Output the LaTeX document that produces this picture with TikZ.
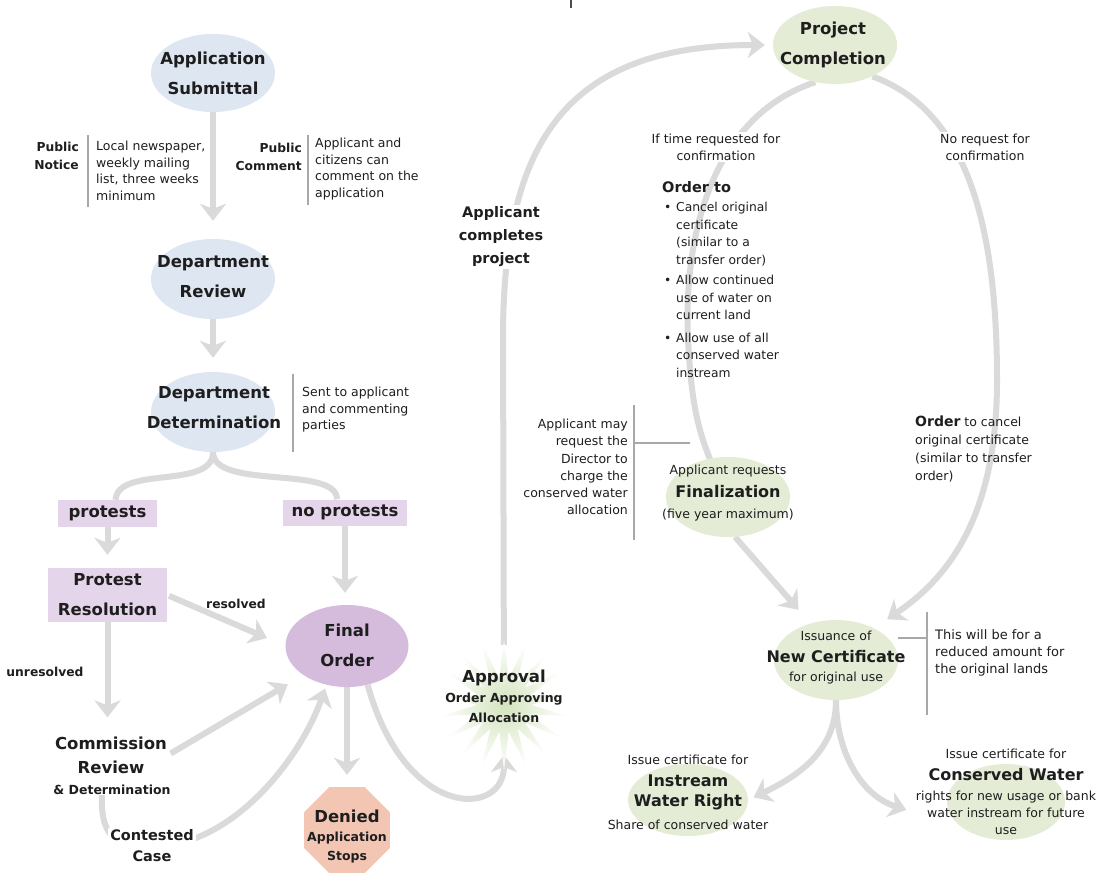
\documentclass[tikz,border=0pt]{standalone}
\usepackage{fontspec}
\setmainfont{DejaVu Sans}
\usetikzlibrary{arrows.meta,shapes.geometric}
\pgfdeclarelayer{bg}
\pgfsetlayers{bg,main}
\definecolor{agray}{HTML}{DADADA}
\definecolor{bargray}{HTML}{A8A8A8}
\definecolor{lblue}{HTML}{DEE6F2}
\definecolor{lgreen}{HTML}{E4ECD6}
\definecolor{sgreen}{HTML}{D3E4BE}
\definecolor{lpurp}{HTML}{E5D5EA}
\definecolor{fopurp}{HTML}{D5BCDD}
\definecolor{salmon}{HTML}{F3C6B4}
\definecolor{txt}{HTML}{1E1E1E}
\newcommand{\fBig}{\fontsize{16.5}{30}\selectfont\bfseries}
\tikzset{
  ell/.style={ellipse, minimum width=124pt, minimum height=78pt, inner sep=0pt, draw=none},
  big/.style={align=center, font=\fBig, inner sep=1pt, text=txt},
  lab/.style={font=\fontsize{12.3}{18}\selectfont\bfseries, inner sep=1pt, text=txt},
  note/.style={font=\fontsize{12.5}{16.5}\selectfont, inner sep=0pt, align=left, text=txt},
  sm/.style={font=\fontsize{12.5}{17}\selectfont, inner sep=0pt, align=center, text=txt},
  smb/.style={font=\fontsize{12.5}{17}\selectfont\bfseries, inner sep=0pt, align=center, text=txt},
  mid/.style={font=\fontsize{16}{20}\selectfont\bfseries, inner sep=0pt, align=center, text=txt},
  box/.style={fill=lpurp, inner sep=0pt, font=\fBig, align=center, text=txt},
  conn/.style={draw=agray, line width=6pt, -{Stealth[length=17pt,width=26pt,inset=5pt]}},
  cline/.style={draw=agray, line width=6pt},
  bar/.style={draw=bargray, line width=1.8pt},
}
\begin{document}
\begin{tikzpicture}[x=1pt,y=-1pt]
\useasboundingbox (0,0) rectangle (1107,875);
\begin{pgfonlayer}{bg}
\fill[white] (0,0) rectangle (1107,875);
\end{pgfonlayer}
\draw[line width=2pt, black!70] (571,0) -- (571,8);

% ---------- left column ----------
\node[ell, fill=lblue] (as) at (213,73) {};
\node[big] (ast) at (213,73) {Application\\Submittal};
\node[ell, fill=lblue, minimum height=80pt] (dr) at (213,279) {};
\node[big] (drt) at (213,277) {Department\\Review};
\node[ell, fill=lblue, minimum height=80pt] (dd) at (213,412) {};
\node[big] (ddt) at (214,408) {Department\\Determination};

\node[lab, anchor=east, align=right] (pn) at (80,156) {Public\\Notice};
\node[note, anchor=west] (n1) at (96,171) {Local newspaper,\\weekly mailing\\list, three weeks\\minimum};
\draw[bar] (88,135) -- (88,207);
\node[lab, anchor=east, align=right] (pcm) at (303,157) {Public\\Comment};
\node[note, anchor=west] (n2) at (315,169) {Applicant and\\citizens can\\comment on the\\application};
\draw[bar] (308,135) -- (308,205);
\node[note, anchor=west] (n3) at (302,410) {Sent to applicant\\and commenting\\parties};
\draw[bar] (293,374) -- (293,452);

\node[box, minimum width=99pt, minimum height=27pt] (prot) at (107.5,513.5) {protests};
\node[box, minimum width=124pt, minimum height=26pt] (noprot) at (345,512.5) {no protests};
\node[box, minimum width=119pt, minimum height=54pt] (pr) at (107.5,595) {Protest\\Resolution};

\node[ell, fill=fopurp, minimum width=123pt, minimum height=82pt] (fo) at (347,646) {};
\node[big] (fot) at (347,645) {Final\\Order};
\node[lab] (res) at (236,604) {resolved};
\node[lab] (unres) at (45,672) {unresolved};

\node[big, font=\fontsize{16.5}{24}\selectfont\bfseries] (cr) at (111,755) {Commission\\Review};
\node[smb] (crd) at (112,790) {\& Determination};
\node[font=\fontsize{14.5}{21}\selectfont\bfseries, align=center, fill=white, inner sep=2pt, text=txt] (cc) at (152,846) {Contested\\Case};

\node[regular polygon, regular polygon sides=8, minimum size=93pt, fill=salmon, inner sep=0pt] (den) at (347,830) {};
\node[big, font=\fontsize{16.5}{20}\selectfont\bfseries] (dent) at (347,816) {Denied};
\node[smb] (den2) at (347,838) {Application};
\node[smb] (den3) at (347,857) {Stops};

\node[star, star points=18, star point ratio=2.4, minimum size=130pt, inner sep=0pt, shading=radial, inner color=sgreen, outer color=white] (app) at (504,705) {};
\node[big, font=\fontsize{16.5}{20}\selectfont\bfseries] (appt) at (504,678) {Approval};
\node[smb] (app2) at (504,699) {Order Approving};
\node[smb] (app3) at (504,718) {Allocation};

\node[font=\fontsize{14.5}{23}\selectfont\bfseries, align=center, fill=white, inner sep=2pt, text=txt] (apc) at (501,237) {Applicant\\completes\\project};

% ---------- right part ----------
\node[ell, fill=lgreen] (pc) at (835,45) {};
\node[big] (pct) at (833,45) {Project\\Completion};
\node[sm, fill=white, inner sep=2pt] (ift) at (716,147) {If time requested for\\confirmation};
\node[sm, fill=white, inner sep=2pt] (norq) at (985,147) {No request for\\confirmation};

\node[anchor=west, font=\fontsize{14.5}{18}\selectfont\bfseries, inner sep=0pt, text=txt] (ordto) at (662,187) {Order to};
\node[note, anchor=north west, font=\fontsize{12.3}{17.5}\selectfont] (olist) at (664,202) {%
\makebox[12pt][l]{•}Cancel original\\\hspace*{12pt}certificate\\\hspace*{12pt}(similar to a\\\hspace*{12pt}transfer order)\\[3pt]
\makebox[12pt][l]{•}Allow continued\\\hspace*{12pt}use of water on\\\hspace*{12pt}current land\\[5pt]
\makebox[12pt][l]{•}Allow use of all\\\hspace*{12pt}conserved water\\\hspace*{12pt}instream};

\node[note, align=right, anchor=east, font=\fontsize{12.5}{17.2}\selectfont] (amr) at (628,467) {Applicant may\\request the\\Director to\\charge the\\conserved water\\allocation};
\draw[bar] (634,405) -- (634,540);
\draw[bar] (634,443) -- (690,443);

\node[ell, fill=lgreen, minimum height=80pt] (fin) at (728,497) {};
\node[sm] (fin1) at (728,471) {Applicant requests};
\node[mid] (fin2) at (728,492) {Finalization};
\node[sm] (fin3) at (728,515) {(five year maximum)};

\node[note, anchor=west, font=\fontsize{12.5}{18}\selectfont] (occ) at (915,449) {{\fontsize{14}{18}\selectfont\bfseries Order} to cancel\\original certificate\\(similar to transfer\\order)};

\node[ell, fill=lgreen, minimum height=80pt] (nc) at (836,660) {};
\node[sm] (nc1) at (836,636) {Issuance of};
\node[mid] (nc2) at (836,657) {New Certificate};
\node[sm] (nc3) at (836,678) {for original use};
\draw[bar] (898,638) -- (927,638);
\draw[bar] (927,612) -- (927,715);
\node[note, anchor=west, font=\fontsize{13}{17}\selectfont] (ncn) at (935,653) {This will be for a\\reduced amount for\\the original lands};

\node[ell, fill=lgreen, minimum width=120pt, minimum height=72pt] (iw) at (688,800) {};
\node[sm] (iw1) at (688,760) {Issue certificate for};
\node[mid] (iw2) at (688,781) {Instream};
\node[mid] (iw3) at (688,802) {Water Right};
\node[sm] (iw4) at (688,825) {Share of conserved water};

\node[ell, fill=lgreen, minimum width=118pt, minimum height=76pt] (cw) at (1006,802) {};
\node[sm] (cw1) at (1006,754) {Issue certificate for};
\node[mid] (cw2) at (1006,775) {Conserved Water};
\node[sm] (cwt) at (1006,813) {rights for new usage or bank\\water instream for future\\use};

% ---------- connectors ----------
\begin{pgfonlayer}{bg}
\draw[conn, shorten >=18pt] (as.south) -- (dr.north);
\draw[conn, shorten >=14pt] (dr.south) -- (dd.north);
\draw[cline] (dd.south) .. controls (213,490) and (118,465) .. ([xshift=8pt]prot.north);
\draw[cline] (dd.south) .. controls (213,490) and (337,465) .. ([xshift=-8pt]noprot.north);
\draw[conn, shorten >=13pt] (prot.south) -- (pr.north);
\draw[conn, shorten >=12pt] (noprot.south) -- (noprot.south |- fo.north);
\draw[conn, shorten >=20pt, shorten <=2pt] (pr.east) -- (fo.west);
\draw[conn, shorten >=18pt] (pr.south) -- (pr.south |- cr.north);
\draw[conn, shorten >=18pt, shorten <=3pt] (cr.east) -- (fo.south west);
\draw[conn, shorten >=4pt] ([xshift=-10pt]crd.south) .. controls (100,840) and (120,848) .. (cc.center) .. controls (230,848) and (300,760) .. (fo.-118);
\draw[conn, shorten >=12pt] (fo.south) -- (fo.south |- den.north);
\draw[conn, shorten >=50pt] (fo.-62) .. controls (405,820) and (504,818) .. (app.center);
\draw[conn, shorten <=60pt, shorten >=8pt] (app.center) -- (503,330) .. controls (505,150) and (560,45) .. (pc.west);
\draw[cline] (pc.-118) .. controls (715,115) and (683,230) .. (688,340) .. controls (692,410) and (698,440) .. (fin.center);
\draw[conn, shorten >=18pt] (fin.-80) -- (nc.125);
\draw[conn, shorten >=16pt] (pc.-40) .. controls (965,110) and (997,220) .. (997,380) .. controls (997,500) and (960,570) .. (nc.40);
\draw[conn, shorten >=6pt] (nc.south) .. controls (836,750) and (800,775) .. (iw.east);
\draw[conn, shorten >=10pt] (nc.south) .. controls (836,750) and (860,795) .. (cwt.west);
\end{pgfonlayer}
\end{tikzpicture}
\end{document}
